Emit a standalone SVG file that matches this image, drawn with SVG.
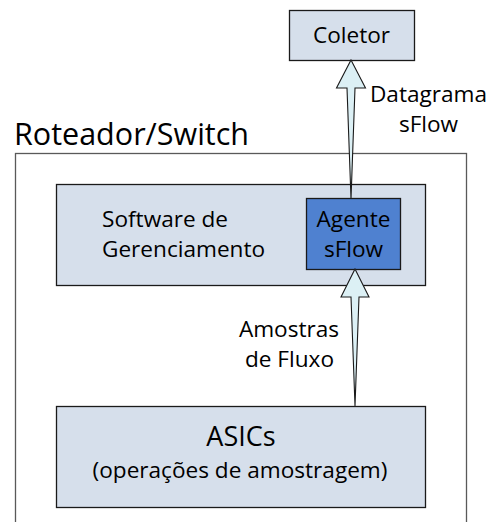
<svg xmlns="http://www.w3.org/2000/svg" width="490" height="522" viewBox="0 0 490 522">
  <style>
    .box { fill: #d6dfeb; stroke: #1a1a1a; stroke-width: 1.3; }
    .agent { fill: #4f81d0; stroke: #1a1a1a; stroke-width: 1.3; }
    .frame { fill: none; stroke: #595959; stroke-width: 1.3; }
    .arrow { fill: #dcf0f5; stroke: #1a1a1a; stroke-width: 1.1; stroke-linejoin: miter; }
    text { font-family: "Open Sans", "Liberation Sans", sans-serif; fill: #000; font-size: 22.6px; }
    .mid { text-anchor: middle; }
  </style>
  <rect width="490" height="522" fill="#ffffff"/>

  <!-- device enclosure -->
  <g id="roteador">
    <rect class="frame" x="15.5" y="153.5" width="451" height="400"/>
    <text x="14" y="145" style="font-size:30.5px">Roteador/Switch</text>
  </g>

  <g id="coletor">
    <rect class="box" x="289.5" y="10.5" width="125" height="50"/>
    <text class="mid" x="351.5" y="43">Coletor</text>
  </g>

  <g id="software">
    <rect class="box" x="56.5" y="184.5" width="369" height="101"/>
    <text x="102" y="227">Software de</text>
    <text x="102" y="257">Gerenciamento</text>
  </g>

  <g id="agente">
    <rect class="agent" x="306.5" y="198.5" width="94" height="71"/>
    <text class="mid" x="353.5" y="227">Agente</text>
    <text class="mid" x="353.5" y="257">sFlow</text>
  </g>

  <g id="asics">
    <rect class="box" x="56.5" y="406.5" width="369" height="101"/>
    <text class="mid" x="241" y="446" style="font-size:27px">ASICs</text>
    <text class="mid" x="240" y="478">(operações de amostragem)</text>
  </g>

  <!-- tapered block arrows -->
  <g id="connectors">
    <path class="arrow" d="M351,60 L365.5,88 L355,88 L351,199 L347,88 L336.5,88 Z"/>
    <path class="arrow" d="M355,269 L369,297 L359,297 L355,406 L351,297 L341,297 Z"/>
    <text class="mid" x="428.5" y="102">Datagrama</text>
    <text class="mid" x="428.5" y="132">sFlow</text>
    <text class="mid" x="289" y="337">Amostras</text>
    <text class="mid" x="289.5" y="367">de Fluxo</text>
  </g>
</svg>
